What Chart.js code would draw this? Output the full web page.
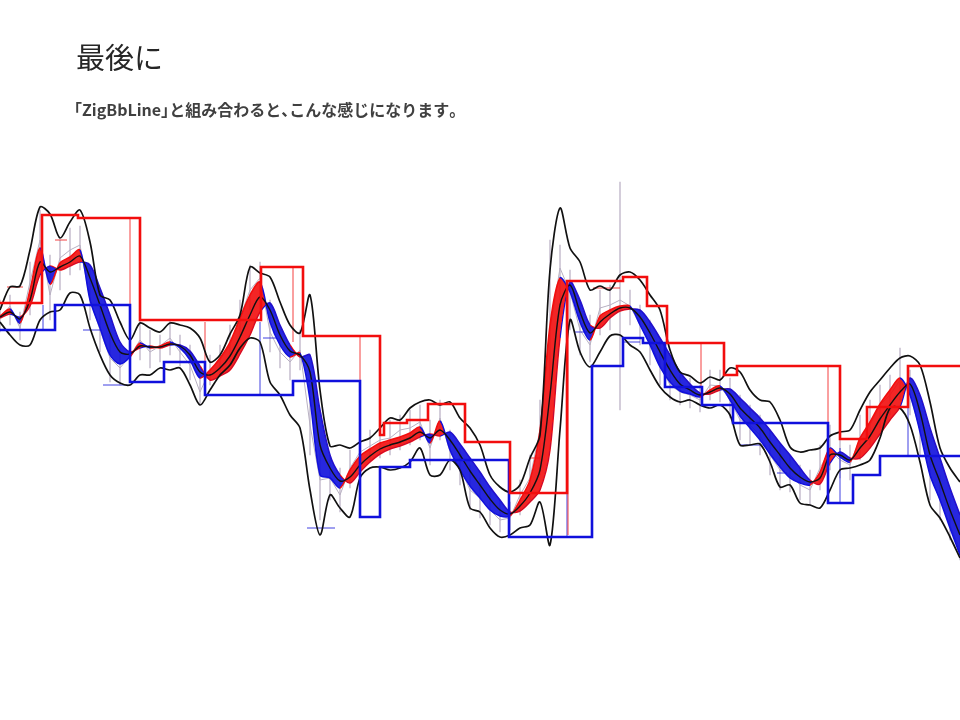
<!DOCTYPE html>
<html lang="ja">
<head>
<meta charset="utf-8">
<script src="https://cdn.jsdelivr.net/npm/chart.js@4/dist/chart.umd.min.js"></script>
<style>
  html, body { margin: 0; padding: 0; background: #ffffff; }
  #page { position: relative; width: 960px; height: 720px; overflow: hidden; }
  #chart { position: absolute; left: 0; top: 0; }
  .title {
    position: absolute; left: 76px; top: 42px; z-index: 2;
    font-family: "Noto Sans CJK JP", sans-serif; font-size: 29px; line-height: 1;
    color: #262626; white-space: nowrap;
  }
  .sub {
    position: absolute; left: 74px; top: 101px; z-index: 2;
    font-family: "Noto Sans CJK JP", sans-serif; font-weight: 700; font-size: 16px; line-height: 1;
    color: #404040; white-space: nowrap;
  }
  .sub .h { font-feature-settings: "halt" 1; }
</style>
</head>
<body>
<div id="page">
  <canvas id="chart" width="960" height="720"></canvas>
  <div class="title">最後に</div>
  <div class="sub"><span class="h">「</span>ZigBbLine<span class="h">」</span>と組み合わると<span class="h">、</span>こんな感じになります<span class="h">。</span></div>
</div>
<script>
// Bar numbers along the time axis
const bars = Array.from({ length: 97 }, (_, i) => i);

// Bollinger upper / lower bands
const upperBand = [290,313,314,350,393,386,362,378,390,358,305,300,278,260,277,272,268,277,275,272,
  262,238,245,266,285,333,327,323,298,275,267,305,210,154,155,152,158,162,172,182,
  180,192,198,200,195,198,182,172,155,125,113,108,115,142,165,330,392,352,338,310,
  314,310,325,328,320,305,290,250,228,224,217,223,220,232,228,210,200,198,180,153,
  148,150,152,164,168,170,190,208,220,232,242,244,235,198,152,132,118];
const lowerBand = [278,265,255,255,280,288,290,307,305,272,245,225,217,215,225,225,232,230,232,215,
  195,210,225,235,252,262,258,218,205,185,172,110,65,105,92,83,122,132,133,130,
  132,138,152,125,125,140,130,92,88,72,63,65,72,75,98,55,170,280,248,233,
  248,264,265,255,248,230,213,203,198,200,195,192,195,185,155,155,156,138,113,115,
  97,95,92,110,130,132,135,140,162,192,192,175,138,95,82,63,42];

// Moving-average ribbon: fastest and slowest members, plus the centre line
const fastMA = [284,291,277,310,352,316,337,343,350,300,272,245,236,243,257,252,254,258,252,240,
  222,230,242,258,282,305,318,278,255,243,247,200,125,122,112,130,144,151,157,160,
  163,167,173,157,179,150,130,114,102,90,84,84,100,120,170,275,322,308,278,260,
  284,290,294,294,275,255,233,218,209,206,203,210,214,200,184,172,160,146,133,122,
  117,115,128,152,143,138,162,178,196,210,222,205,168,125,100,72,45];
const slowMA = [282,286,283,294,325,334,330,334,338,335,312,285,258,248,252,254,252,255,255,249,
  234,220,224,230,246,265,288,297,275,255,243,245,190,145,125,117,128,138,146,151,
  154,158,163,166,164,168,156,142,128,113,100,88,89,98,110,150,262,318,300,275,
  272,282,289,291,290,278,262,245,228,216,207,206,210,211,202,192,182,170,157,145,
  132,120,116,137,148,142,142,152,166,180,193,222,205,172,142,112,85];
const midLine = [283,288,281,300,338,328,333,338,344,322,295,267,248,246,254,253,253,256,254,245,
  228,225,232,244,263,285,303,290,265,249,245,228,155,132,119,123,135,144,151,155,
  158,162,168,162,170,160,145,129,115,101,90,86,94,107,130,205,295,315,288,267,
  278,286,292,292,283,267,248,230,216,210,205,208,212,206,192,182,172,158,145,132,
  123,118,122,145,145,140,152,164,181,195,208,216,188,145,118,90,65];

// Price: close, high and low of each bar
const closes = [282,294,272,318,360,305,342,350,355,300,270,242,232,244,260,248,254,262,248,235,
  208,230,240,255,282,310,322,268,248,238,250,175,120,122,105,132,148,154,160,162,
  170,172,178,152,182,148,132,110,102,90,80,82,105,122,170,270,332,308,270,255,
  292,295,300,294,275,258,235,215,208,205,200,215,214,200,180,175,165,145,130,125,
  115,110,132,150,140,135,162,175,195,205,220,205,170,125,100,75,50];
const highs = [300,305,288,338,390,345,360,372,374,332,295,265,255,260,280,270,265,280,265,255,
  230,245,255,275,300,335,338,300,270,255,270,215,150,145,132,150,165,170,175,180,
  185,190,195,180,200,170,152,135,122,110,100,98,120,145,200,360,355,330,300,285,
  310,315,418,310,295,280,260,238,225,222,215,230,230,222,205,195,185,170,155,145,
  135,130,155,175,160,155,185,200,215,225,252,230,195,150,125,100,70];
const lows = [268,275,260,285,332,280,310,325,330,280,248,218,215,228,240,232,238,245,234,220,
  195,215,225,238,260,290,300,248,232,220,230,145,80,100,88,112,130,138,142,145,
  150,155,160,135,160,130,115,90,82,75,68,70,85,100,125,220,300,270,245,238,
  265,270,190,275,255,235,215,200,195,192,188,200,198,182,160,155,145,125,110,108,
  100,95,110,130,122,120,140,155,172,185,200,185,145,100,80,60,40];

// ZigBbLine levels: [bar where the level starts, level]
const zigHigh = [[0,297],[4.2,385],[7.8,382],[14.0,280],[26.1,333],[30.3,264],[38.0,165],[38.4,177],
  [40.7,180],[42.8,196],[46.5,158],[51.0,107],[56.7,319],[62.3,323],[64.7,294],[66.7,257],
  [72.4,225],[73.7,234],[84.0,161],[86.7,193],[90.8,234],[96,234]];
const zigLow = [[0,270],[5.5,295],[13.0,218],[16.4,238],[20.5,205],[29.3,219],[36.0,83],[38.0,133],
  [41.0,140],[50.9,63],[59.2,234],[62.3,262],[64.3,257],[66.5,213],[70.2,195],[73.3,177],
  [82.8,97],[85.3,125],[88.0,144],[96,144]];

// Short-term swing marks: pivots [bar, from, to] and legs [from bar, to bar, level]
const swingHighPivots = [[13.0,225,382],[20.5,232,278],[29.3,258,332],[36.0,148,263],[56.8,65,318],[70.1,212,257],[82.8,158,234]];
const swingHighLegs = [[0.7,2.3,313],[5.5,6.7,360],[53.0,54.0,142],[59.3,62.0,312]];
const swingLowPivots = [[4.3,270,295],[26.0,205,278],[56.7,63,318],[84.0,97,152],[90.8,144,234]];
const swingLowLegs = [[8.3,10.0,270],[10.3,13.0,215],[26.3,27.7,262],[30.7,33.5,72],[57.5,58.7,268],
  [62.3,64.0,258],[74.0,76.0,155],[77.7,78.7,127]];

const RED = '#f20d0d';
const BLUE = '#1010dc';

function series(values) {
  return bars.map((b, i) => ({ x: b, y: values[i] }));
}
function levels(list) {
  return list.map(([x, y]) => ({ x, y }));
}
function swingMarks(pivots, legs) {
  const out = [];
  pivots.forEach(([x, a, b]) => { out.push({ x, y: a }, { x, y: b }, { x, y: null }); });
  legs.forEach(([x0, x1, y]) => { out.push({ x: x0, y }, { x: x1, y }, { x: x1, y: null }); });
  return out;
}
const trendColor = (ctx) =>
  fastMA[ctx.p1DataIndex] >= slowMA[ctx.p1DataIndex] ? RED : BLUE;

const lineBase = { pointRadius: 0, fill: false, spanGaps: false };

new Chart(document.getElementById('chart'), {
  type: 'line',
  data: {
    datasets: [
      // each level holds until the next one starts
      { ...lineBase, label: 'ZigBb high', data: levels(zigHigh), stepped: 'before',
        borderColor: RED, borderWidth: 2.6 },
      { ...lineBase, label: 'ZigBb low', data: levels(zigLow), stepped: 'before',
        borderColor: BLUE, borderWidth: 2.6 },
      { ...lineBase, label: 'Centre', data: series(midLine), tension: 0.3,
        borderColor: '#111111', borderWidth: 1.4 },
      { ...lineBase, label: 'Upper band', data: series(upperBand), tension: 0.3,
        borderColor: '#111111', borderWidth: 1.7 },
      { ...lineBase, label: 'Lower band', data: series(lowerBand), tension: 0.3,
        borderColor: '#111111', borderWidth: 1.7 },
      { ...lineBase, label: 'Fast MA', data: series(fastMA), tension: 0.3,
        borderWidth: 1.5, borderColor: RED, segment: { borderColor: trendColor },
        fill: { target: '+1', above: 'rgba(242,13,13,0.9)', below: 'rgba(16,16,220,0.9)' } },
      { ...lineBase, label: 'Slow MA', data: series(slowMA), tension: 0.3,
        borderWidth: 1.5, borderColor: RED, segment: { borderColor: trendColor } },
      { ...lineBase, label: 'Swing high', data: swingMarks(swingHighPivots, swingHighLegs),
        borderColor: 'rgba(242,30,30,0.85)', borderWidth: 1 },
      { ...lineBase, label: 'Swing low', data: swingMarks(swingLowPivots, swingLowLegs),
        borderColor: 'rgba(30,30,220,0.85)', borderWidth: 1 },
      { ...lineBase, label: 'Close', data: series(closes), tension: 0,
        borderColor: '#b8b0c2', borderWidth: 1 },
      { type: 'bar', label: 'Range', data: bars.map((b, i) => ({ x: b, y: [lows[i], highs[i]] })),
        backgroundColor: '#cbc3d3', barThickness: 1, borderWidth: 0 }
    ]
  },
  options: {
    responsive: false,
    animation: false,
    events: [],
    layout: { padding: 0 },
    plugins: { legend: { display: false }, tooltip: { enabled: false } },
    scales: {
      x: { type: 'linear', min: 0, max: 96, offset: false, display: false },
      y: { min: -120, max: 600, display: false }
    }
  }
});
</script>
</body>
</html>
